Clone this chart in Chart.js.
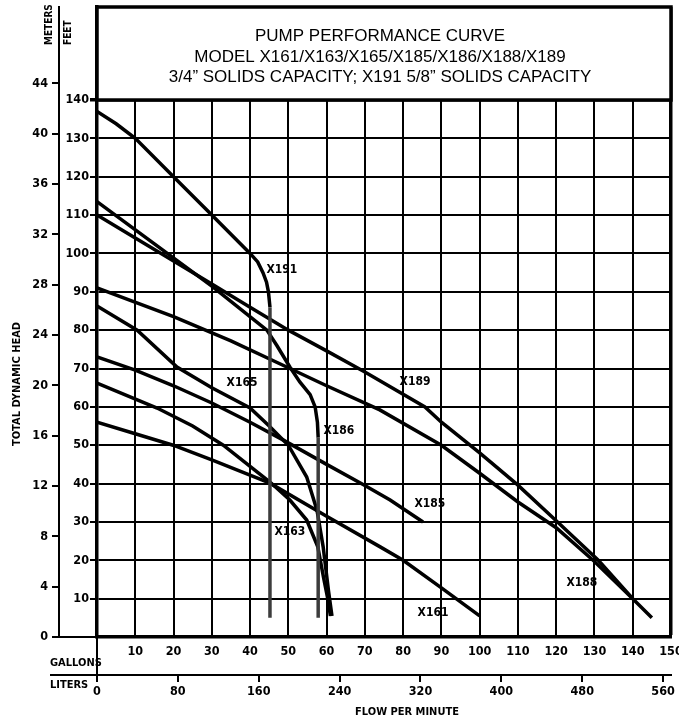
<!DOCTYPE html>
<html lang="en">
<head>
  <meta charset="UTF-8">
  <title>Pump Performance Curve</title>
  <script src="https://cdn.jsdelivr.net/npm/chart.js"></script>
  <style>
    html, body { margin: 0; padding: 0; background: #fff; }
    #wrap { width: 679px; height: 719px; }
  </style>
</head>
<body>
<div id="wrap"><canvas id="pumpChart" width="679" height="719"></canvas></div>

<script>
  // curves: flow in gallons per minute, head in feet
  const x191Flow = [0, 5, 10, 20, 30, 40, 42, 43.4, 44.3, 44.8, 45.2, 45.2];
  const x191Head = [137, 133.8, 130, 120, 110, 100, 97.8, 94.9, 92.5, 90, 86, 5];

  const x186Flow = [0, 15, 30, 44.4, 47, 50.4, 53, 55.7, 57, 57.6, 57.8, 57.8];
  const x186Head = [113.5, 102.5, 91.5, 80, 76, 70.4, 66.5, 63.2, 60, 56, 52, 5];

  const x189Flow = [0, 10, 20, 30, 40, 50, 60, 70, 85.7, 90, 100, 110, 120, 131, 140];
  const x189Head = [110, 104, 98, 92, 86, 80, 74.6, 69.1, 60, 56, 48, 39.6, 30.3, 20, 10];

  const x188Flow = [0, 20, 35, 50, 60, 73.9, 90, 100, 110, 120, 130, 140, 145];
  const x188Head = [91, 83.5, 77.2, 70.2, 65.5, 59.2, 50, 42.7, 35.2, 28.5, 19.7, 10, 5];

  const x165Flow = [0, 10.5, 20.9, 30, 40, 45, 50, 54.8, 57.5, 59.1, 60.5, 61.4];
  const x165Head = [86.3, 80, 70.4, 65, 59.7, 55, 50, 41.7, 33, 23.5, 12, 5.5];

  const x185Flow = [0, 10, 20, 30, 40, 48.6, 60, 70, 76.6, 85.2];
  const x185Head = [73, 69.6, 65.5, 61, 56, 51.4, 45, 39.5, 35.7, 30];

  const x163Flow = [0, 15.7, 25, 33, 40, 45.2, 50.4, 54.8, 57.7, 59.3, 60.3, 61];
  const x163Head = [66.2, 59.7, 55, 50, 44.5, 40.4, 35.7, 30.5, 23.5, 15, 10, 5.5];

  const x161Flow = [0, 10, 19.9, 30, 45.2, 60, 74, 80, 90, 100];
  const x161Head = [56, 53, 50, 46.2, 40.1, 31.5, 23.5, 20, 12.8, 5.5];

  const gallonTicks = [0, 10, 20, 30, 40, 50, 60, 70, 80, 90, 100, 110, 120, 130, 140, 150];
  const literTicks = [0, 80, 160, 240, 320, 400, 480, 560];
  const feetTicks = [0, 10, 20, 30, 40, 50, 60, 70, 80, 90, 100, 110, 120, 130, 140];
  const meterTicks = [0, 4, 8, 12, 16, 20, 24, 28, 32, 36, 40, 44];

  const titleLines = [
    "PUMP PERFORMANCE CURVE",
    "MODEL X161/X163/X165/X185/X186/X188/X189",
    "3/4\u201D SOLIDS CAPACITY; X191 5/8\u201D SOLIDS CAPACITY"
  ];

  const FT_PER_M = 3.28084;
  const L_PER_GAL = 3.78541;
  const FT_MAX = 164.25;   // feet scale runs up under the title box
  const GRID_TOP = 140;

  const narrow = "'Liberation Sans Narrow', 'DejaVu Sans Condensed', sans-serif";
  const tickFont = { family: narrow, size: 12.5, weight: "bold" };

  // curve name tags, placed in flow / head units
  const curveTags = [
    { name: "X191", x: 48.3, y: 95.7 },
    { name: "X165", x: 37.9, y: 66.2 },
    { name: "X186", x: 63.2, y: 53.7 },
    { name: "X163", x: 50.4, y: 27.4 },
    { name: "X189", x: 83.1, y: 66.5 },
    { name: "X185", x: 87.0, y: 34.7 },
    { name: "X188", x: 126.7, y: 14.0 },
    { name: "X161", x: 87.8, y: 6.2 }
  ];

  function pts(flow, head) {
    return flow.map((x, i) => ({ x: x, y: head[i] }));
  }

  function curve(label, flow, head) {
    return {
      label: label,
      data: pts(flow, head),
      borderColor: "#000",
      borderWidth: 3.5,
      pointRadius: 0,
      fill: false,
      tension: 0,
      segment: {
        // the straight drop-offs are printed in a grey hatch
        borderColor: c => c.p0.parsed.x === c.p1.parsed.x ? "#3c3c3c" : undefined
      }
    };
  }

  // keep the plot box where the sheet has it: no label overhang padding
  const noPadX = s => { s.paddingLeft = 0; s.paddingRight = 0; };
  const noPadY = s => { s.paddingTop = 0; s.paddingBottom = 0; };

  const sheetPlugin = {
    id: "sheet",
    afterDraw(chart) {
      const ctx = chart.ctx;
      const a = chart.chartArea;
      const yf = chart.scales.y;
      const xg = chart.scales.x;
      const xl = chart.scales.liters;
      const boxBottom = yf.getPixelForValue(GRID_TOP);

      ctx.save();
      // title box
      ctx.fillStyle = "#fff";
      ctx.fillRect(a.left, a.top, a.right - a.left, boxBottom - a.top);
      ctx.strokeStyle = "#000";
      ctx.lineWidth = 3.5;
      ctx.strokeRect(a.left, a.top, a.right - a.left, boxBottom - a.top);

      ctx.fillStyle = "#000";
      ctx.font = "17px 'Liberation Sans', Arial, sans-serif";
      ctx.textAlign = "center";
      ctx.textBaseline = "middle";
      const cx = (a.left + a.right) / 2 - 4;
      ctx.fillText(titleLines[0], cx, a.top + 29);
      ctx.fillText(titleLines[1], cx, a.top + 50);
      ctx.fillText(titleLines[2], cx, a.top + 70);

      // curve names
      ctx.font = "bold 12px " + narrow;
      curveTags.forEach(t => {
        ctx.fillText(t.name, xg.getPixelForValue(t.x), yf.getPixelForValue(t.y));
      });

      // extra rules round the axes
      ctx.lineWidth = 2;
      ctx.beginPath();
      ctx.moveTo(52, yf.getPixelForValue(0));
      ctx.lineTo(a.left, yf.getPixelForValue(0));
      ctx.moveTo(50, xl.top);
      ctx.lineTo(a.left, xl.top);
      ctx.moveTo(a.left, a.bottom);
      ctx.lineTo(a.left, xl.top + 7);
      ctx.stroke();

      // axis words
      ctx.font = "bold 11px " + narrow;
      ctx.textAlign = "left";
      ctx.fillText("GALLONS", 50, 663);
      ctx.fillText("LITERS", 50, 685);
      ctx.textAlign = "center";
      ctx.fillText("FLOW PER MINUTE", 407, 712);

      const vertical = (text, x, y, align) => {
        ctx.save();
        ctx.translate(x, y);
        ctx.rotate(-Math.PI / 2);
        ctx.textAlign = align;
        ctx.fillText(text, 0, 0);
        ctx.restore();
      };
      ctx.font = "bold 10px " + narrow;
      vertical("METERS", 49, 45, "left");
      vertical("FEET", 68.5, 45, "left");
      ctx.font = "bold 11px " + narrow;
      vertical("TOTAL DYNAMIC HEAD", 17, 384, "center");
      ctx.restore();
    }
  };

  new Chart(document.getElementById("pumpChart"), {
    type: "line",
    data: {
      datasets: [
        curve("X191", x191Flow, x191Head),
        curve("X186", x186Flow, x186Head),
        curve("X189", x189Flow, x189Head),
        curve("X188", x188Flow, x188Head),
        curve("X165", x165Flow, x165Head),
        curve("X185", x185Flow, x185Head),
        curve("X163", x163Flow, x163Head),
        curve("X161", x161Flow, x161Head)
      ]
    },
    options: {
      responsive: false,
      animation: false,
      layout: { padding: { top: 7, right: 8, bottom: 0, left: 0 } },
      plugins: { legend: { display: false }, tooltip: { enabled: false } },
      scales: {
        x: {
          type: "linear", position: "bottom", weight: 0, min: 0, max: 150,
          afterBuildTicks: s => { s.ticks = gallonTicks.map(v => ({ value: v })); },
          afterFit: s => { s.height = 38; noPadX(s); },
          ticks: { color: "#000", font: tickFont, padding: 7, maxRotation: 0, autoSkip: false,
                   callback: v => v === 0 ? "" : v },
          grid: { color: "#000", lineWidth: c => c.tick && c.tick.value === 150 ? 3.5 : 2, drawTicks: false },
          border: { color: "#000", width: 3.5 }
        },
        liters: {
          type: "linear", position: "bottom", weight: 1, min: 0, max: 150 * L_PER_GAL,
          afterBuildTicks: s => { s.ticks = literTicks.map(v => ({ value: v })); },
          afterFit: s => { s.height = 44; noPadX(s); },
          ticks: { color: "#000", font: tickFont, padding: 2, maxRotation: 0, autoSkip: false },
          grid: { drawOnChartArea: false, color: "#000", lineWidth: 2, tickLength: 7 },
          border: { color: "#000", width: 2 }
        },
        y: {
          type: "linear", position: "left", weight: 0, min: 0, max: FT_MAX,
          afterBuildTicks: s => { s.ticks = feetTicks.map(v => ({ value: v })); },
          afterFit: s => { s.width = 38; noPadY(s); },
          ticks: { color: "#000", font: tickFont, padding: 1, callback: v => v === 0 ? "" : v },
          grid: { color: "#000", lineWidth: c => c.tick && c.tick.value === GRID_TOP ? 3.5 : 2, tickLength: 7 },
          border: { color: "#000", width: 3.5 }
        },
        meters: {
          type: "linear", position: "left", weight: 1, min: 0, max: FT_MAX / FT_PER_M,
          afterBuildTicks: s => { s.ticks = meterTicks.map(v => ({ value: v })); },
          afterFit: s => { s.width = 59; noPadY(s); },
          ticks: { color: "#000", font: tickFont, padding: 4 },
          grid: { drawOnChartArea: false, color: "#000", lineWidth: 2, tickLength: 7 },
          border: { color: "#000", width: 2 }
        }
      }
    },
    plugins: [sheetPlugin]
  });
</script>
</body>
</html>
